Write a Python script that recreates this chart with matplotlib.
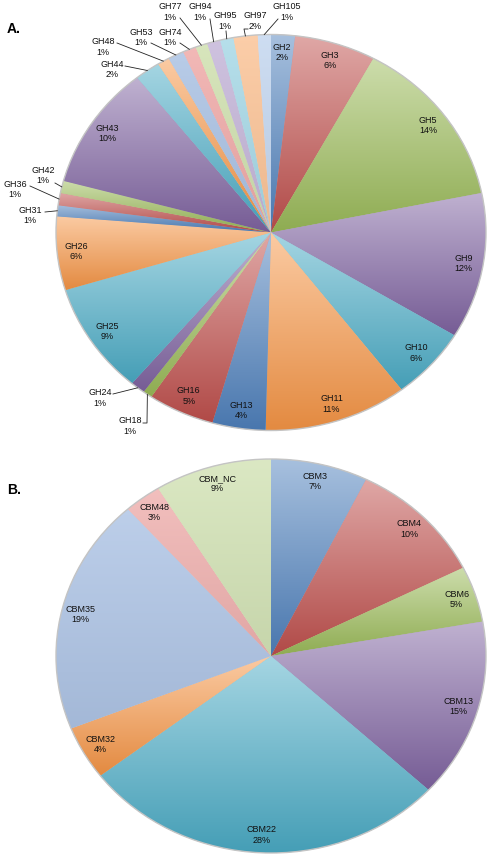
import numpy as np
import matplotlib.pyplot as plt
from matplotlib.colors import to_rgb
from matplotlib.patches import Ellipse

plt.rcParams['font.family'] = ['Liberation Sans', 'DejaVu Sans']

# Panel A: glycoside hydrolase families (share, %)
gh_labels = ["GH2", "GH3", "GH5", "GH9", "GH10", "GH11", "GH13", "GH16", "GH18",
             "GH24", "GH25", "GH26", "GH31", "GH36", "GH42", "GH43", "GH44", "GH48",
             "GH53", "GH74", "GH77", "GH94", "GH95", "GH97", "GH105"]
gh_values = [1.8, 6.1, 13.9, 11.9, 5.9, 10.8, 4.0, 5.0, 0.7,
             1.1, 9.1, 6.0, 0.9, 1.0, 1.0, 10.1, 1.9, 0.9,
             1.2, 1.0, 0.9, 1.0, 1.0, 1.8, 1.0]

# Panel B: carbohydrate binding modules (share, %)
cbm_labels = ["CBM3", "CBM4", "CBM6", "CBM13", "CBM22", "CBM32", "CBM35", "CBM48", "CBM_NC"]
cbm_values = [7.3, 10.3, 4.6, 14.7, 27.7, 4.4, 19.4, 2.8, 8.8]

W, H = 490, 861

base = ["#4F81BD", "#C0504D", "#9BBB59", "#8064A2", "#4BACC6", "#F79646"]
light = ["#A9C1E3", "#EFA9A7", "#CFE0AE", "#C4B5D8", "#A6D8E6", "#FBC396", "#C3D6EF"]

gh_colors = [base[i % 6] for i in range(18)] + light
cbm_colors = base + ["#AEC4E5", "#EFB1AF", "#D3E3B6"]

# labels drawn outside with leader lines: text centre (px), leader start points (px)
outside_a = {
    "GH18": ((130, 426), [(143, 423), (147, 423)]),
    "GH24": ((100, 398), [(113, 394)]),
    "GH31": ((30, 215.5), [(45, 212)]),
    "GH36": ((15, 189.5), [(30, 186)]),
    "GH42": ((43, 175.5), [(55, 183)]),
    "GH44": ((112, 69.5), [(125, 66)]),
    "GH48": ((103, 47), [(117, 43)]),
    "GH53": ((141, 37.5), [(151, 43)]),
    "GH74": ((170, 37.5), [(180, 43)]),
    "GH77": ((170, 12), [(180, 18)]),
    "GH94": ((200, 12), [(210, 19)]),
    "GH95": ((225, 21), [(226, 31)]),
    "GH97": ((255, 21), [(248, 29), (244, 29)]),
    "GH105": ((287, 12), [(278, 19)]),
}


def mix(c, t, f):
    c = np.array(to_rgb(c))
    t = np.array(to_rgb(t))
    return c + (t - c) * f


fig = plt.figure(figsize=(W / 100, H / 100), dpi=100)


def draw_pie(cx, cy, rx, ry, labels, values, colors, outside, light_from):
    ax = fig.add_axes([0, 0, 1, 1])
    ax.patch.set_alpha(0)
    wedges, _ = ax.pie(values, colors=colors, startangle=90, counterclock=False,
                       wedgeprops=dict(linewidth=0, edgecolor="none"))
    total = sum(values)
    grad = np.linspace(0, 1, 256)[:, None, None]
    for i, w in enumerate(wedges):
        c = colors[i]
        if i < light_from:
            top, bot = mix(c, "white", 0.5), mix(c, "black", 0.08)
        else:
            top, bot = mix(c, "white", 0.18), mix(c, "black", 0.06)
        w.set_facecolor((top + bot) / 2)
        bb = w.get_path().get_extents()
        img = top * (1 - grad) + bot * grad
        im = ax.imshow(img, extent=(bb.x0, bb.x1, bb.y0, bb.y1), origin="upper",
                       aspect="auto", interpolation="bilinear", zorder=1.5)
        im.set_clip_path(w)

        mid = np.deg2rad((w.theta1 + w.theta2) / 2)
        txt = f"{labels[i]}\n{round(values[i] / total * 100):.0f}%"
        if labels[i] in outside:
            (tx, ty), pts = outside[labels[i]]
            ax.text((tx - cx) / rx, (cy - ty) / ry, txt, ha="center", va="center",
                    fontsize=6.5, color="#111111", zorder=4)
            xs = [(p[0] - cx) / rx for p in pts] + [np.cos(mid)]
            ys = [(cy - p[1]) / ry for p in pts] + [np.sin(mid)]
            ax.plot(xs, ys, color="#222222", lw=0.6, zorder=3)
        else:
            r = 0.91
            ax.text(r * np.cos(mid), r * np.sin(mid), txt, ha="center", va="center",
                    fontsize=6.5, color="#111111", zorder=4)

    ax.add_patch(Ellipse((0, 0), 2, 2, fill=False, edgecolor="#c4c4c4", lw=1.0, zorder=1.8))
    ax.set_aspect("auto")
    ax.set_xlim(-cx / rx, (W - cx) / rx)
    ax.set_ylim(-(H - cy) / ry, cy / ry)
    ax.axis("off")
    return ax


draw_pie(271, 232.5, 215, 198, gh_labels, gh_values, gh_colors, outside_a, 18)
draw_pie(271, 656, 215, 197, cbm_labels, cbm_values, cbm_colors, {}, 6)

fig.text(7 / W, 1 - 29 / H, "A.", fontsize=10, fontweight="bold", ha="left", va="center")
fig.text(7 / W, 1 - 490 / H, "B.", fontsize=10, fontweight="bold", ha="left", va="center")

fig.savefig("out.png", dpi=100)
plt.close(fig)
